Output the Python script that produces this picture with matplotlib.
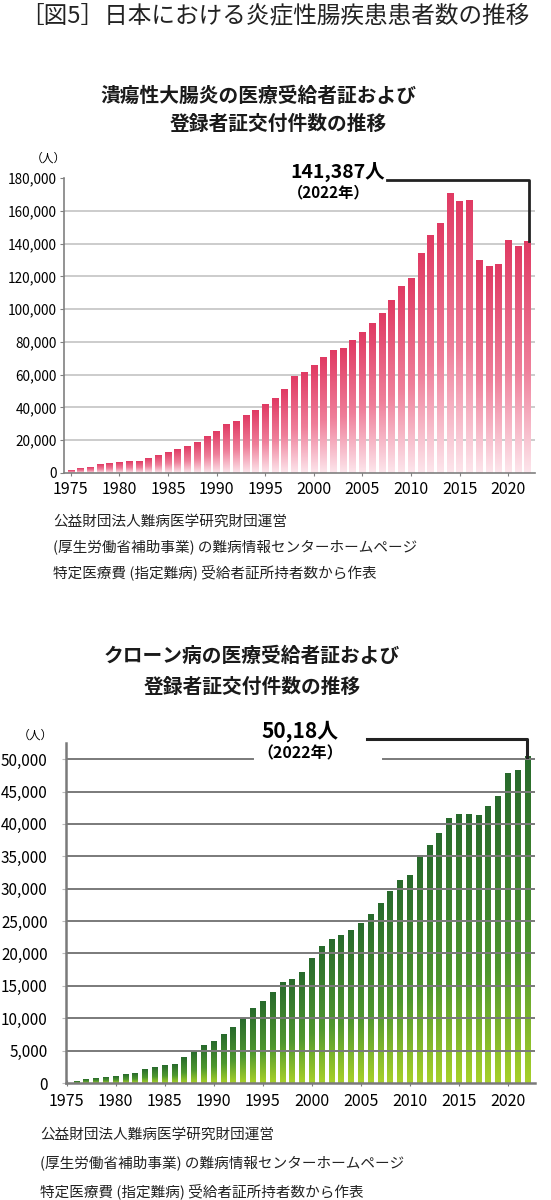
import numpy as np
import matplotlib
matplotlib.use("Agg")
import matplotlib.pyplot as plt
from matplotlib.colors import LinearSegmentedColormap

plt.rcParams['font.family'] = ['Noto Sans CJK JP', 'DejaVu Sans']

# 潰瘍性大腸炎 (1975-2022)
uc_years = list(range(1975, 2023))
uc_values = [1600, 2900, 3500, 5100, 5500, 6300, 7300, 7300, 8600, 10800,
             12800, 14100, 16100, 18600, 22200, 25300, 29400, 31200, 35100, 37900,
             41600, 45500, 51000, 58800, 61200, 65700, 70400, 74500, 75900, 81000,
             85500, 91000, 97500, 105300, 113900, 118400, 134100, 145000, 152500, 170400,
             165500, 166300, 129600, 126100, 127300, 141800, 137900, 141387]

# クローン病 (1976-2022)
cd_years = list(range(1976, 2023))
cd_values = [250, 500, 650, 800, 1000, 1300, 1450, 2050, 2450, 2650,
             2900, 3950, 4900, 5750, 6450, 7500, 8600, 9950, 11550, 12550,
             14000, 15500, 16050, 17000, 19200, 21100, 22200, 22800, 23550, 24650,
             25950, 27650, 29550, 31250, 32050, 35100, 36700, 38500, 40900, 41400,
             41500, 41300, 42650, 44250, 47750, 48200, 50350]

xtick_years = [1975, 1980, 1985, 1990, 1995, 2000, 2005, 2010, 2015, 2020]
uc_yticks = list(range(0, 180001, 20000))
cd_yticks = list(range(0, 50001, 5000))

title = '［図5］日本における炎症性腸疾患患者数の推移'
uc_title = ['潰瘍性大腸炎の医療受給者証および', '登録者証交付件数の推移']
cd_title = ['クローン病の医療受給者証および', '登録者証交付件数の推移']
source = ['公益財団法人難病医学研究財団運営',
          '(厚生労働省補助事業) の難病情報センターホームページ',
          '特定医療費 (指定難病) 受給者証所持者数から作表']

pink = LinearSegmentedColormap.from_list('pink', [(0, '#fde6ec'), (0.45, '#ef7f9a'), (1, '#e03a63')])
green = LinearSegmentedColormap.from_list('green', [(0, '#a8d12a'), (0.4, '#4f972f'), (1, '#286a2c')])
grad = np.linspace(0, 1, 256).reshape(-1, 1)

W, H = 551, 1200
fig = plt.figure(figsize=(W / 100, H / 100), dpi=100)


def fx(px):
    return px / W


def fy(py):
    return 1 - py / H


def gradient_bars(ax, years, values, width, cmap):
    bars = ax.bar(years, values, width=width, color='none', zorder=2)
    for r in bars:
        x0 = r.get_x()
        ax.imshow(grad, extent=(x0, x0 + r.get_width(), 0, r.get_height()),
                  aspect='auto', cmap=cmap, origin='lower', zorder=2)


fig.text(fx(275), fy(16), title, ha='center', va='center', fontsize=17, color='#222222')

# ---- top chart ----
fig.text(fx(258), fy(96), uc_title[0], ha='center', va='center', fontsize=14.2, fontweight='bold', color='#1a1a1a')
fig.text(fx(278), fy(124), uc_title[1], ha='center', va='center', fontsize=14.2, fontweight='bold', color='#1a1a1a')

ax1 = fig.add_axes([fx(64), fy(473), fx(535 - 64), (473 - 178) / H])
for v in uc_yticks[1:-1]:
    ax1.axhline(v, color='#c8c8c8', lw=1.3, zorder=1)
gradient_bars(ax1, uc_years, uc_values, 0.66, pink)
ax1.set_xlim(1974.31, 2022.75)
ax1.set_ylim(0, 180000)
ax1.set_xticks(xtick_years)
ax1.set_yticks(uc_yticks)
ax1.set_yticklabels([f'{v:,}' for v in uc_yticks])
for s in ['top', 'right']:
    ax1.spines[s].set_visible(False)
for s in ['left', 'bottom']:
    ax1.spines[s].set_color('#808080')
    ax1.spines[s].set_linewidth(1.2)
ax1.tick_params(axis='x', direction='inout', length=4, color='#808080', pad=4, labelsize=11.5)
ax1.tick_params(axis='y', length=3, color='#808080', pad=2, labelsize=9.8)
fig.text(fx(48), fy(158), '（人）', ha='center', va='center', fontsize=8.5)

ax1.plot([2007.5, 2022.13, 2022.13], [178500, 178500, uc_values[-1]], color='#222222', lw=2, clip_on=False, zorder=5)
ax1.text(1997.6, 183500, '141,387人', ha='left', va='center', fontsize=14, fontweight='bold', clip_on=False)
ax1.text(1997.3, 171000, '（2022年）', ha='left', va='center', fontsize=11, fontweight='bold', clip_on=False)

for i, line in enumerate(source):
    fig.text(fx(53), fy(522 + 25 * i), line, ha='left', va='center', fontsize=10.5, color='#222222')

# ---- bottom chart ----
fig.text(fx(252), fy(656), cd_title[0], ha='center', va='center', fontsize=14.2, fontweight='bold', color='#1a1a1a')
fig.text(fx(252), fy(687), cd_title[1], ha='center', va='center', fontsize=14.2, fontweight='bold', color='#1a1a1a')

ax2 = fig.add_axes([fx(65.7), fy(1083), fx(535 - 65.7), (1083 - 743) / H])
gradient_bars(ax2, cd_years, cd_values, 0.6, green)
for v in cd_yticks[1:-1]:
    ax2.axhline(v, color='#7a7a7a', lw=1.4, zorder=3)
ax2.plot([1974.9, 1994.0], [50000, 50000], color='#7a7a7a', lw=1.4, zorder=3)
ax2.plot([2007.25, 2022.75], [50000, 50000], color='#7a7a7a', lw=1.4, zorder=3)
ax2.set_xlim(1974.9, 2022.75)
ax2.set_ylim(0, 52500)
ax2.set_xticks(xtick_years)
ax2.set_yticks(cd_yticks)
ax2.set_yticklabels([f'{v:,}' for v in cd_yticks])
for s in ['top', 'right']:
    ax2.spines[s].set_visible(False)
for s in ['left', 'bottom']:
    ax2.spines[s].set_color('#7a7a7a')
    ax2.spines[s].set_linewidth(1.8)
ax2.tick_params(axis='x', direction='inout', length=4, color='#7a7a7a', pad=5, labelsize=11.5)
ax2.tick_params(axis='y', length=3, color='#bbbbbb', pad=10, labelsize=11)
fig.text(fx(35), fy(735), '（人）', ha='center', va='center', fontsize=8.5)

ax2.plot([2005.6, 2021.94, 2021.94], [53100, 53100, cd_values[-1]], color='#222222', lw=2.2, clip_on=False, zorder=5)
ax2.text(1994.9, 54300, '50,18人', ha='left', va='center', fontsize=15, fontweight='bold', clip_on=False)
ax2.text(1994.4, 50900, '（2022年）', ha='left', va='center', fontsize=11.5, fontweight='bold', clip_on=False)

for i, line in enumerate(source):
    fig.text(fx(40), fy(1135 + 28 * i), line, ha='left', va='center', fontsize=10.5, color='#222222')

fig.savefig('out.png', dpi=100)
